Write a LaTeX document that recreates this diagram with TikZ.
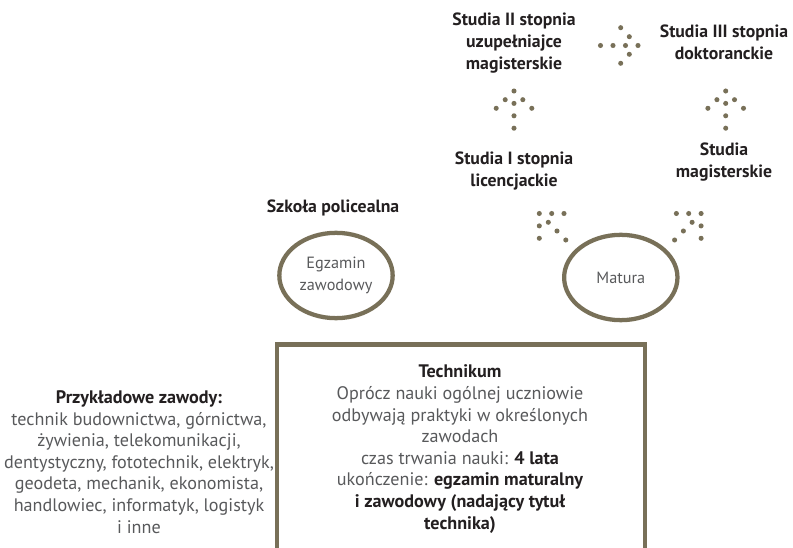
\documentclass[tikz,border=0pt]{standalone}
\usepackage{fontspec}
\setmainfont{PT Sans}
\usetikzlibrary{shapes.geometric}
\definecolor{olive}{RGB}{120,112,88}
\definecolor{txtgray}{RGB}{88,89,91}
\definecolor{txtdark}{RGB}{35,31,32}
\tikzset{
  boldlbl/.style={font=\fontsize{13.3}{16.2}\selectfont\bfseries, text=txtdark, align=center, inner sep=0pt},
  lightlbl/.style={font=\fontsize{13.6}{16.2}\selectfont, text=txtgray, align=center, inner sep=0pt},
  ringlbl/.style={font=\fontsize{12.2}{16.5}\selectfont, text=txtgray, align=center, inner sep=0pt},
  ring/.style={draw=olive, line width=3.2pt, ellipse, minimum width=85pt, minimum height=64pt, inner sep=0pt},
  dotfill/.style={fill=olive}
}
\newcommand{\olivedot}[1]{\fill[dotfill] #1 circle (1.9pt);}
\begin{document}
\begin{tikzpicture}[x=0.75pt,y=-0.75pt]
\useasboundingbox (0,0) rectangle (793,548);
\clip (0,0) rectangle (793,548);

% top texts
\node[boldlbl] (s2) at (514,43) {Studia II stopnia\\uzupełniajce\\magisterskie};
\node[boldlbl] (s3) at (724,42) {Studia III stopnia\\doktoranckie};
\node[boldlbl] (s1) at (514,171) {Studia I stopnia\\licencjackie};
\node[boldlbl] (sm) at (724,162) {Studia\\magisterskie};
\node[boldlbl] (sp) at (333,208) {Szkoła policealna};

% dotted arrows
\foreach \p in {(600.5,45.5),(613,45.5),(625.5,45.5),(638,45.5),(629.3,36.7),(629.3,54.3),(620.7,27.7),(620.7,63.3)} {\olivedot{\p}}
\foreach \cx in {514,725.7} {
  \foreach \dx/\dy in {0/0,0/12.4,0/24.8,0/37.2,-8.8/8.7,8.8/8.7,-17.8/17.3,17.8/17.3} {
    \olivedot{(\cx+\dx,91+\dy)}
  }
}
\foreach \p in {(539.3,213.5),(551.7,213.5),(564,213.5),(539.3,225.9),(539.3,238.3),(548.3,222.3),(557,231),(565.8,240)} {\olivedot{\p}}
\foreach \p in {(701.1,213.5),(688.7,213.5),(676.4,213.5),(701.1,225.9),(701.1,238.3),(692.1,222.3),(683.4,231),(674.6,240)} {\olivedot{\p}}

% ellipses
\node[ring, ringlbl] (ez) at (336,275.5) {Egzamin\\zawodowy};
\node[ring, ringlbl] (ma) at (620.8,277.5) {Matura};

% box
\coordinate (bl) at (277,560);
\coordinate (tl) at (277,344.5);
\coordinate (tr) at (645,344.5);
\coordinate (br) at (645,560);
\draw[olive, line width=3.2pt, line join=miter] (bl) -- (tl) -- (tr) -- (br);

\node[lightlbl] (tech) at (460,449) {\textbf{\color{txtdark}Technikum}\\
Oprócz nauki ogólnej uczniowie\\
odbywają praktyki w określonych\\
zawodach\\
czas trwania nauki: \textbf{\color{txtdark}4 lata}\\
ukończenie: \textbf{\color{txtdark}egzamin maturalny}\\
\textbf{\color{txtdark}i zawodowy (nadający tytuł}\\
\textbf{\color{txtdark}technika)}};

\node[lightlbl] (zaw) at (139,462) {\textbf{\color{txtdark}Przykładowe zawody:}\\
technik budownictwa, górnictwa,\\
żywienia, telekomunikacji,\\
dentystyczny, fototechnik, elektryk,\\
geodeta, mechanik, ekonomista,\\
handlowiec, informatyk, logistyk\\
i inne};
\end{tikzpicture}
\end{document}
